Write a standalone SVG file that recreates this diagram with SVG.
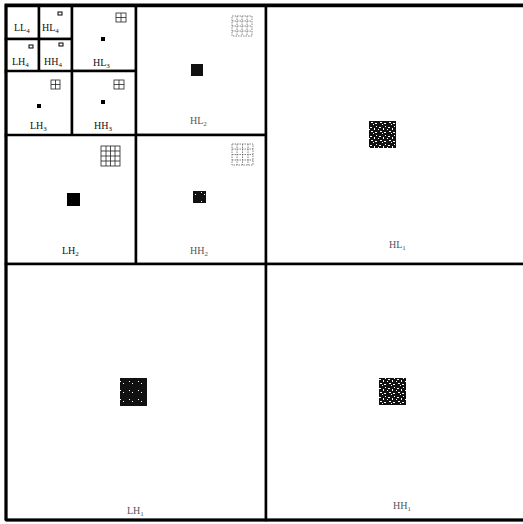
<svg xmlns="http://www.w3.org/2000/svg" width="523" height="524" viewBox="0 0 523 524">
<style>
.cell{fill:#fff;stroke:#000;stroke-width:2.5}
.lbl{font-family:"Liberation Serif","DejaVu Serif",serif;font-size:10px;fill:#111}
.lbl2{font-family:"Liberation Serif","DejaVu Serif",serif;font-size:10px;fill:#555}
.sub{font-size:7px}
.grid{fill:none;stroke:#222;stroke-width:0.8}
.dgrid{fill:none;stroke:#666;stroke-width:0.8;stroke-dasharray:1.5 1}
.dot{fill:#000}
.box{fill:none;stroke:#000;stroke-width:1}
</style>
<defs>
<pattern id="speckA" width="9" height="9" patternUnits="userSpaceOnUse">
<rect width="9" height="9" fill="#111"/>
<rect x="1" y="1" width="2" height="1" fill="#fff"/>
<rect x="5" y="2" width="1" height="2" fill="#fff"/>
<rect x="2" y="5" width="2" height="1" fill="#fff"/>
<rect x="6" y="6" width="2" height="1" fill="#fff"/>
<rect x="4" y="7" width="1" height="1" fill="#fff"/>
<rect x="7" y="0" width="1" height="1" fill="#fff"/>
<rect x="0" y="3" width="1" height="1" fill="#fff"/>
</pattern>
<pattern id="speckB" width="9" height="9" patternUnits="userSpaceOnUse">
<rect width="9" height="9" fill="#111"/>
<rect x="3" y="3" width="1" height="1" fill="#fff"/>
<rect x="6" y="5" width="1" height="1" fill="#fff"/>
</pattern>
</defs>
<rect width="523" height="524" fill="#fff"/>

<g id="LL4"><rect class="cell" x="6" y="6" width="33" height="33"/><text class="lbl" x="14" y="31">LL<tspan class="sub" dy="2">4</tspan></text></g>
<g id="HL4"><rect class="cell" x="39" y="6" width="33" height="33"/><rect class="box" x="58" y="12" width="4" height="3"/><text class="lbl" x="42" y="31">HL<tspan class="sub" dy="2">4</tspan></text></g>
<g id="LH4"><rect class="cell" x="6" y="39" width="33" height="33"/><rect class="box" x="29" y="45" width="4" height="3"/><text class="lbl" x="12" y="65">LH<tspan class="sub" dy="2">4</tspan></text></g>
<g id="HH4"><rect class="cell" x="39" y="39" width="33" height="33"/><rect class="box" x="59" y="43" width="4" height="3"/><text class="lbl" x="44" y="65">HH<tspan class="sub" dy="2">4</tspan></text></g>

<g id="HL3"><rect class="cell" x="72" y="6" width="64" height="65"/>
<rect class="grid" x="116" y="13" width="10" height="9"/><line class="grid" x1="121" y1="13" x2="121" y2="22"/><line class="grid" x1="116" y1="17.5" x2="126" y2="17.5"/>
<rect class="dot" x="101" y="37" width="4" height="4"/>
<text class="lbl" x="93" y="66">HL<tspan class="sub" dy="2">3</tspan></text></g>
<g id="LH3"><rect class="cell" x="6" y="71" width="66" height="65"/>
<rect class="grid" x="51" y="80" width="9" height="9"/><line class="grid" x1="55.5" y1="80" x2="55.5" y2="89"/><line class="grid" x1="51" y1="84.5" x2="60" y2="84.5"/>
<rect class="dot" x="37" y="104" width="4" height="4"/>
<text class="lbl" x="30" y="129">LH<tspan class="sub" dy="2">3</tspan></text></g>
<g id="HH3"><rect class="cell" x="72" y="71" width="64" height="65"/>
<rect class="grid" x="114" y="80" width="10" height="9"/><line class="grid" x1="119" y1="80" x2="119" y2="89"/><line class="grid" x1="114" y1="84.5" x2="124" y2="84.5"/>
<rect class="dot" x="101" y="100" width="4" height="4"/>
<text class="lbl" x="94" y="129">HH<tspan class="sub" dy="2">3</tspan></text></g>

<g id="HL2"><rect class="cell" x="136" y="6" width="130" height="129"/>
<rect class="dgrid" x="232" y="16" width="20" height="20"/><line class="dgrid" x1="237" y1="16" x2="237" y2="36"/><line class="dgrid" x1="242" y1="16" x2="242" y2="36"/><line class="dgrid" x1="247" y1="16" x2="247" y2="36"/><line class="dgrid" x1="232" y1="21" x2="252" y2="21"/><line class="dgrid" x1="232" y1="26" x2="252" y2="26"/><line class="dgrid" x1="232" y1="31" x2="252" y2="31"/>
<rect x="191" y="64" width="12" height="12" fill="#111"/>
<text class="lbl2" x="190" y="124">HL<tspan class="sub" dy="2">2</tspan></text></g>
<g id="LH2"><rect class="cell" x="6" y="135" width="130" height="129"/>
<rect class="grid" x="101" y="146" width="19" height="20"/><line class="grid" x1="106" y1="146" x2="106" y2="166"/><line class="grid" x1="110.5" y1="146" x2="110.5" y2="166"/><line class="grid" x1="115" y1="146" x2="115" y2="166"/><line class="grid" x1="101" y1="151" x2="120" y2="151"/><line class="grid" x1="101" y1="156" x2="120" y2="156"/><line class="grid" x1="101" y1="161" x2="120" y2="161"/>
<rect x="67" y="193" width="13" height="13" fill="#000"/>
<text class="lbl" x="62" y="254">LH<tspan class="sub" dy="2">2</tspan></text></g>
<g id="HH2"><rect class="cell" x="136" y="135" width="130" height="129"/>
<rect class="dgrid" x="232" y="144" width="21" height="21"/><line class="dgrid" x1="237" y1="144" x2="237" y2="165"/><line class="dgrid" x1="242.5" y1="144" x2="242.5" y2="165"/><line class="dgrid" x1="248" y1="144" x2="248" y2="165"/><line class="dgrid" x1="232" y1="149" x2="253" y2="149"/><line class="dgrid" x1="232" y1="154.5" x2="253" y2="154.5"/><line class="dgrid" x1="232" y1="160" x2="253" y2="160"/>
<rect x="193" y="191" width="13" height="12" fill="url(#speckB)"/>
<text class="lbl2" x="190" y="254">HH<tspan class="sub" dy="2">2</tspan></text></g>

<g id="HL1"><rect class="cell" x="266" y="6" width="270" height="258"/>
<rect x="369" y="121" width="27" height="27" fill="url(#speckA)"/>
<text class="lbl2" x="389" y="248">HL<tspan class="sub" dy="2">1</tspan></text></g>
<g id="LH1"><rect class="cell" x="6" y="264" width="260" height="256"/>
<rect x="120" y="378" width="27" height="28" fill="url(#speckB)"/>
<text class="lbl2" x="127" y="514">LH<tspan class="sub" dy="2">1</tspan></text></g>
<g id="HH1"><rect class="cell" x="266" y="264" width="270" height="256"/>
<rect x="379" y="378" width="27" height="27" fill="url(#speckA)"/>
<text class="lbl2" x="393" y="509">HH<tspan class="sub" dy="2">1</tspan></text></g>

<g id="frame"><path d="M6 520 V5 H530" fill="none" stroke="#000" stroke-width="3"/><line x1="6" y1="520" x2="530" y2="520" stroke="#000" stroke-width="3"/></g>
<g id="connectors"></g>
</svg>
